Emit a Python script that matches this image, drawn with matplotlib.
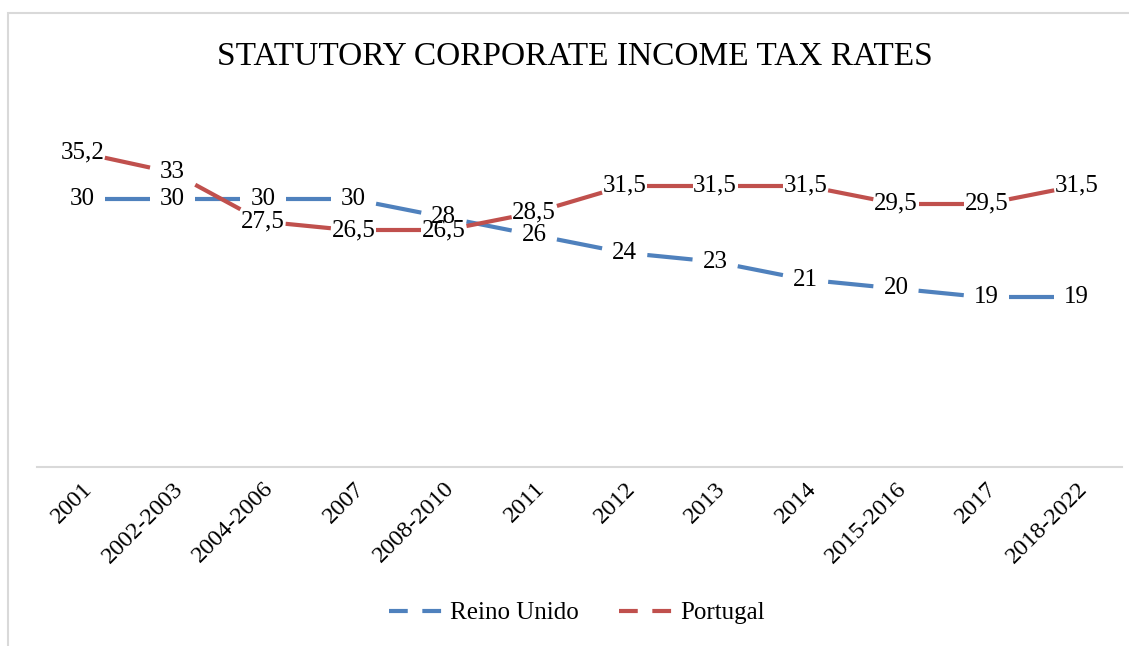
import matplotlib
matplotlib.use("Agg")
import matplotlib.pyplot as plt
from matplotlib.lines import Line2D
from matplotlib.patches import Rectangle

categories = ["2001", "2002-2003", "2004-2006", "2007", "2008-2010", "2011",
              "2012", "2013", "2014", "2015-2016", "2017", "2018-2022"]
reino_unido = [30, 30, 30, 30, 28, 26, 24, 23, 21, 20, 19, 19]
portugal = [35.2, 33, 27.5, 26.5, 26.5, 28.5, 31.5, 31.5, 31.5, 29.5, 29.5, 31.5]

blue = "#4F81BD"
red = "#C0504D"

plt.rcParams['font.family'] = ['Liberation Serif', 'DejaVu Serif']

fig = plt.figure(figsize=(11.29, 6.46), dpi=100)
ax = fig.add_axes([37 / 1129, 1 - 467 / 646, (1122 - 37) / 1129, (467 - 110) / 646])

# chart frame (cut off at right and bottom)
fig.patches.append(Rectangle((8 / 1129, -0.1), 1.2, 1.1 - 13 / 646,
                             transform=fig.transFigure, fill=False,
                             edgecolor="#D9D9D9", linewidth=1.5))


def draw_series(vals, color):
    # each segment only shows its middle half (long dash look)
    for i in range(len(vals) - 1):
        y0, y1 = vals[i], vals[i + 1]
        ax.plot([i + 0.25, i + 0.75],
                [y0 + 0.25 * (y1 - y0), y0 + 0.75 * (y1 - y0)],
                color=color, lw=3, solid_capstyle='butt')


draw_series(reino_unido, blue)
draw_series(portugal, red)


def fmt(v):
    return str(v).replace('.', ',') if v != int(v) else str(int(v))


for i, v in enumerate(reino_unido):
    ax.text(i, v, fmt(v), ha='center', va='center', fontsize=18)
for i, v in enumerate(portugal):
    ax.text(i, v, fmt(v), ha='center', va='center', fontsize=18)

ax.set_xlim(-0.5, len(categories) - 0.5)
ax.set_ylim(0, 40)
ax.set_yticks([])
ax.set_xticks(range(len(categories)))
ax.set_xticklabels(categories, rotation=45, ha='right', rotation_mode='anchor',
                   fontsize=17.5)
ax.tick_params(axis='x', length=0, pad=8)
for s in ['left', 'right', 'top']:
    ax.spines[s].set_visible(False)
ax.spines['bottom'].set_color("#D9D9D9")
ax.spines['bottom'].set_linewidth(1.5)

fig.text(575 / 1129, 1 - 57 / 646, "STATUTORY CORPORATE INCOME TAX RATES",
         ha='center', va='center', fontsize=24)

handles = [Line2D([], [], color=blue, lw=3, dashes=(4.5, 3.5)),
           Line2D([], [], color=red, lw=3, dashes=(4.5, 3.5))]
fig.legend(handles, ["Reino Unido", "Portugal"], loc='center',
           bbox_to_anchor=(577 / 1129, 1 - 613 / 646), ncol=2, frameon=False,
           fontsize=18, handlelength=2.3, handletextpad=0.15, columnspacing=1.6)

fig.savefig("out.png", dpi=100)
